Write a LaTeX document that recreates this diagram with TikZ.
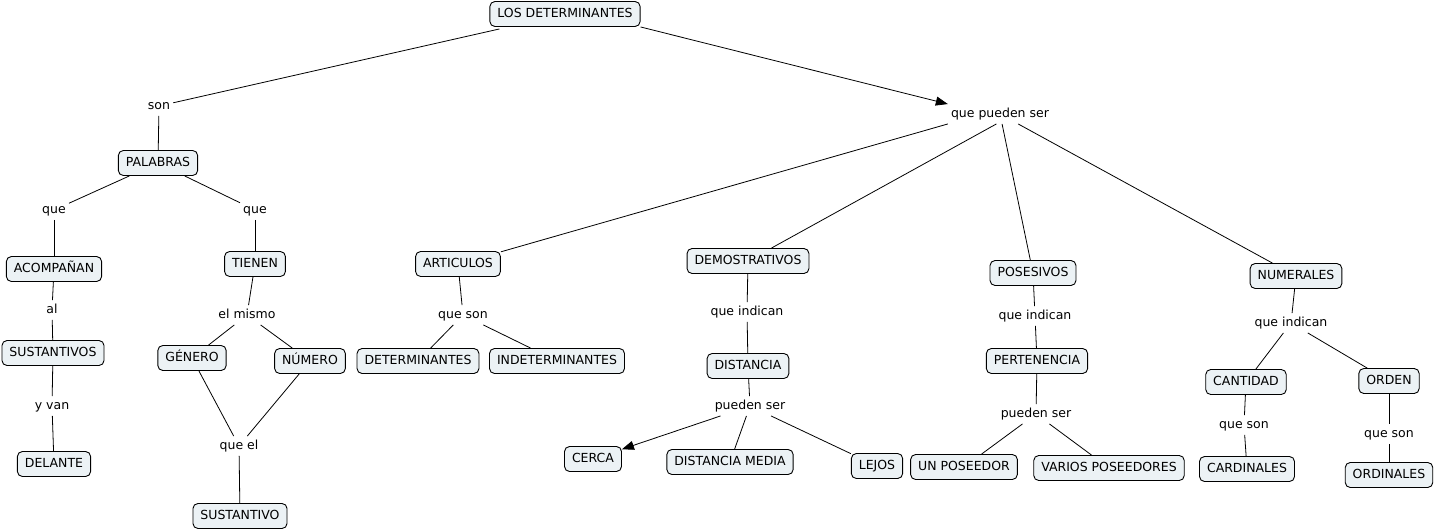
\documentclass[tikz,border=0pt]{standalone}
\usepackage{fontspec}
\setmainfont{DejaVu Sans}
\usetikzlibrary{arrows.meta}
\definecolor{boxfill}{RGB}{236,242,245}
\begin{document}
\begin{tikzpicture}[x=1pt,y=-1pt,
  concept/.style={draw=black, line width=0.9pt, fill=boxfill, rounded corners=5pt,
    font=\fontsize{12.5}{14}\selectfont, inner xsep=7.5pt, inner ysep=0pt,
    text height=9pt, text depth=2.5pt, minimum height=25pt},
  lab/.style={font=\fontsize{12.5}{14}\selectfont, inner xsep=3pt, inner ysep=4pt,
    text height=9pt, text depth=2.5pt},
  link/.style={draw=black, line width=0.8pt},
  arr/.style={link, -{Triangle[length=12pt,width=9pt]}}]
\useasboundingbox (0,0) rectangle (1435,530);
\fill[white] (0,0) rectangle (1435,530);

% concepts
\node[concept] (top) at (565,14) {LOS DETERMINANTES};
\node[concept] (pal) at (158,163) {PALABRAS};
\node[concept] (acom) at (54,269) {ACOMPAÑAN};
\node[concept] (tien) at (255,264) {TIENEN};
\node[concept] (susts) at (53,353) {SUSTANTIVOS};
\node[concept] (gen) at (192,358) {GÉNERO};
\node[concept] (num) at (310,361) {NÚMERO};
\node[concept] (del) at (54,464) {DELANTE};
\node[concept] (sust) at (240,516) {SUSTANTIVO};
\node[concept] (art) at (458,264) {ARTICULOS};
\node[concept] (det) at (418,361) {DETERMINANTES};
\node[concept] (indet) at (557,361) {INDETERMINANTES};
\node[concept] (dem) at (748,261) {DEMOSTRATIVOS};
\node[concept] (dist) at (748,366) {DISTANCIA};
\node[concept] (cer) at (593,459) {CERCA};
\node[concept] (dm) at (730,462) {DISTANCIA MEDIA};
\node[concept] (lej) at (877,466) {LEJOS};
\node[concept] (pos) at (1033,273) {POSESIVOS};
\node[concept] (per) at (1037,361) {PERTENENCIA};
\node[concept] (unp) at (964,467) {UN POSEEDOR};
\node[concept] (var) at (1109,468) {VARIOS POSEEDORES};
\node[concept] (nume) at (1296,276) {NUMERALES};
\node[concept] (cant) at (1246,382) {CANTIDAD};
\node[concept] (ord) at (1389,381) {ORDEN};
\node[concept] (card) at (1247,469) {CARDINALES};
\node[concept] (ordi) at (1389,475) {ORDINALES};

% linking phrases
\node[lab] (son) at (159,106) {son};
\node[lab] (qps) at (1000,114) {que pueden ser};
\node[lab] (que1) at (54,210) {que};
\node[lab] (que2) at (255,210) {que};
\node[lab] (al) at (52,310) {al};
\node[lab] (elm) at (247,315) {el mismo};
\node[lab] (yvan) at (52,406) {y van};
\node[lab] (queel) at (239,446) {que el};
\node[lab] (qs1) at (463,315) {que son};
\node[lab] (qi1) at (747,312) {que indican};
\node[lab] (ps1) at (750,406) {pueden ser};
\node[lab] (qi2) at (1035,316) {que indican};
\node[lab] (ps2) at (1036,414) {pueden ser};
\node[lab] (qi3) at (1291,323) {que indican};
\node[lab] (qs2) at (1244,425) {que son};
\node[lab] (qs3) at (1389,434) {que son};

% connectors
\draw[link] (top.south west) ++(10,2) coordinate (topsw) (topsw) -- (son);
\draw[link] (son) -- (pal);
\draw[arr] (top.south east) -- (qps.north west);
\draw[link] (pal) -- (que1);
\draw[link] (que1) -- (acom);
\draw[link] (pal) -- (que2);
\draw[link] (que2) -- (tien);
\draw[link] (acom) -- (al);
\draw[link] (al) -- (susts);
\draw[link] (susts) -- (yvan);
\draw[link] (yvan) -- (del);
\draw[link] (tien) -- (elm);
\draw[link] (elm) -- (gen);
\draw[link] (elm) -- (num);
\draw[link] (gen) -- (queel);
\draw[link] (num) -- (queel);
\draw[link] (queel) -- (sust);
\draw[link] (qps.south west) -- (art);
\draw[link] (qps.250) -- (dem);
\draw[link] (qps) -- (pos);
\draw[link] (qps) -- (nume);
\draw[link] (art) -- (qs1);
\draw[link] (qs1) -- (det);
\draw[link] (qs1) -- (indet);
\draw[link] (dem) -- (qi1);
\draw[link] (qi1) -- (dist);
\draw[link] (dist) -- (ps1);
\draw[arr] (ps1) -- (cer);
\draw[link] (ps1) -- (dm);
\draw[link] (ps1) -- (lej);
\draw[link] (pos) -- (qi2);
\draw[link] (qi2) -- (per);
\draw[link] (per) -- (ps2);
\draw[link] (ps2) -- (unp);
\draw[link] (ps2) -- (var);
\draw[link] (nume) -- (qi3);
\draw[link] (qi3) -- (cant);
\draw[link] (qi3) -- (ord);
\draw[link] (cant) -- (qs2);
\draw[link] (qs2) -- (card);
\draw[link] (ord) -- (qs3);
\draw[link] (qs3) -- (ordi);
\end{tikzpicture}
\end{document}
